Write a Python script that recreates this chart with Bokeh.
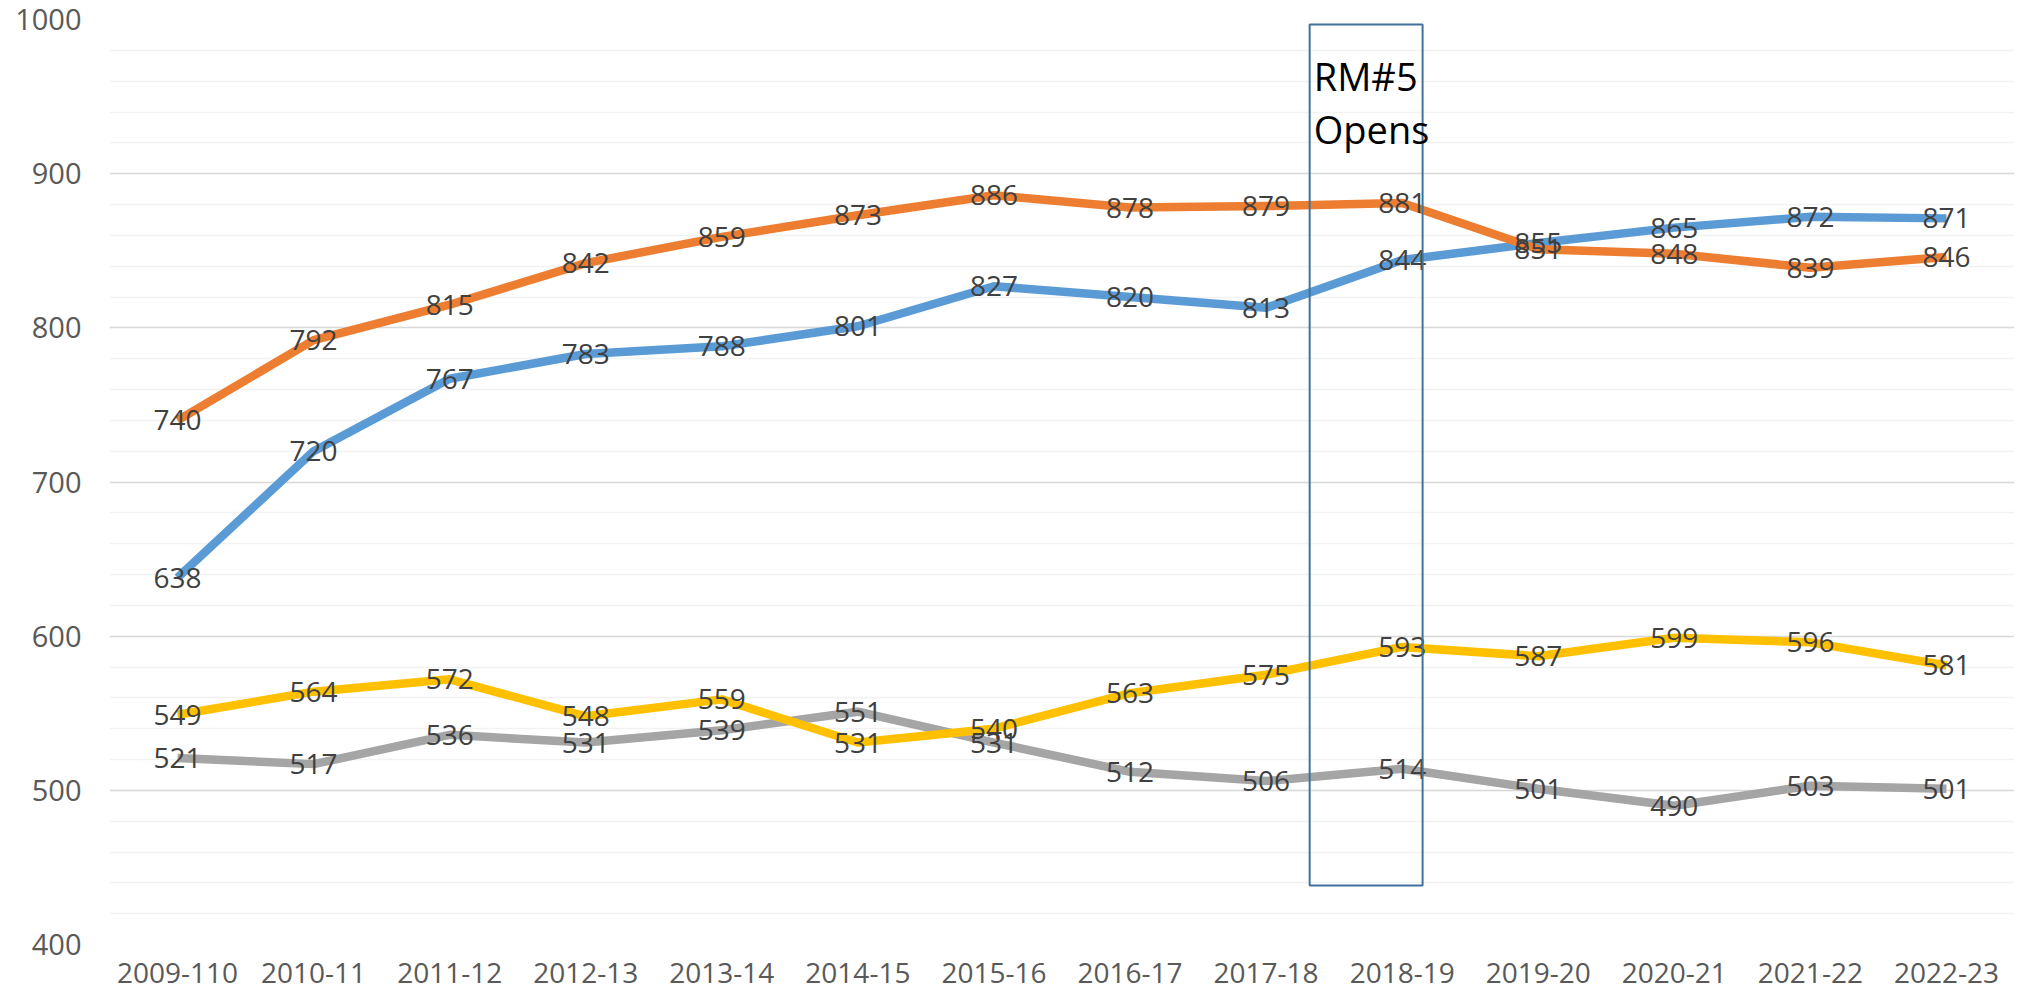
from bokeh.plotting import figure
from bokeh.models import ColumnDataSource, FactorRange, Range1d, SingleIntervalTicker
from bokeh.core.properties import value
from bokeh.embed import file_html
from bokeh.resources import INLINE

years = ["2009-110", "2010-11", "2011-12", "2012-13", "2013-14", "2014-15", "2015-16",
         "2016-17", "2017-18", "2018-19", "2019-20", "2020-21", "2021-22", "2022-23"]
blue_vals = [638, 720, 767, 783, 788, 801, 827, 820, 813, 844, 855, 865, 872, 871]
orange_vals = [740, 792, 815, 842, 859, 873, 886, 878, 879, 881, 851, 848, 839, 846]
gray_vals = [521, 517, 536, 531, 539, 551, 531, 512, 506, 514, 501, 490, 503, 501]
yellow_vals = [549, 564, 572, 548, 559, 531, 540, 563, 575, 593, 587, 599, 596, 581]

series = [("blue", blue_vals, "#5B9BD5"),
          ("orange", orange_vals, "#ED7D31"),
          ("gray", gray_vals, "#A5A5A5"),
          ("yellow", yellow_vals, "#FFC000")]

y_min, y_max = 400, 1000
# annotation box (synthetic categorical x coordinates, data y)
box_left, box_right, box_top, box_bottom = 8.82, 9.65, 996.8, 438.3
note_lines = ["RM#5", "Opens"]
note_y = [963.5, 929]

FONT = "Open Sans"

p = figure(width=2014, height=1000, x_range=FactorRange(*years), y_range=Range1d(y_min, y_max),
           output_backend="svg", toolbar_location=None,
           min_border_left=109, min_border_right=0, min_border_top=19, min_border_bottom=56)
p.outline_line_color = None
p.background_fill_color = "white"
p.border_fill_color = "white"

p.xgrid.grid_line_color = None
p.ygrid.grid_line_color = "#D9D9D9"
p.ygrid.grid_line_width = 1.5
p.ygrid.minor_grid_line_color = "#F2F2F2"
p.ygrid.minor_grid_line_width = 1.5

p.yaxis.ticker = SingleIntervalTicker(interval=100, num_minor_ticks=5)
for ax in (p.xaxis, p.yaxis):
    ax.axis_line_color = None
    ax.major_tick_line_color = None
    ax.minor_tick_line_color = None
    ax.major_tick_out = 0
    ax.minor_tick_out = 0
    ax.major_label_text_font = FONT
    ax.major_label_text_color = "#595959"
p.xaxis.major_label_text_font_size = "28px"
p.yaxis.major_label_text_font_size = "29px"
p.yaxis.major_label_standoff = 28
p.xaxis.major_label_standoff = 18

for name, vals, color in series:
    src = ColumnDataSource(dict(x=years, y=vals))
    p.line(x="x", y="y", source=src, line_color=color, line_width=8.5, line_join="round")

for name, vals, color in series:
    src = ColumnDataSource(dict(x=years, y=vals, t=[str(v) for v in vals]))
    p.text(x="x", y="y", text="t", source=src, text_align="center", text_baseline="middle",
           text_font=value(FONT), text_font_size="28px", text_color="#404040")

p.quad(left=[box_left], right=[box_right], top=[box_top], bottom=[box_bottom],
       fill_alpha=0, line_color="#41719C", line_width=2)

p.text(x=[box_left + 0.03] * len(note_lines), y=note_y, text=note_lines,
       text_align="left", text_baseline="alphabetic",
       text_font=value(FONT), text_font_size="38px", text_color="#000000")

open("out.html", "w").write(file_html(p, INLINE))
